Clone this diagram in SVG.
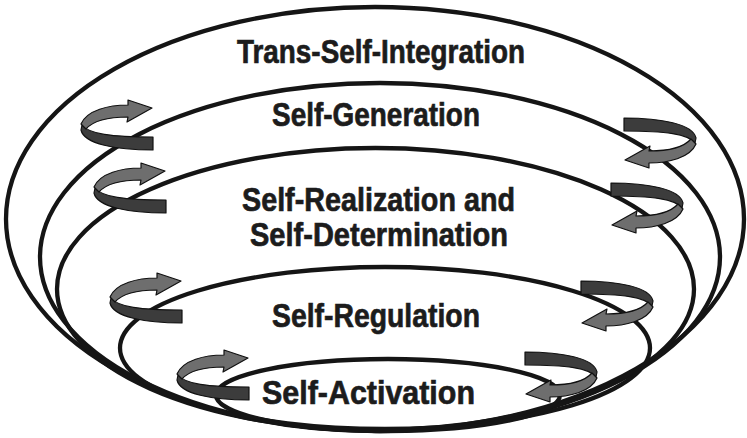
<svg xmlns="http://www.w3.org/2000/svg" width="747" height="438" viewBox="0 0 747 438">
<defs>
<style>
.ring{fill:none;stroke:#151515;stroke-width:4.3}
.lbl{font-family:"Liberation Sans Narrow","Liberation Sans",Arial,sans-serif;font-weight:bold;font-size:34px;fill:#1c1c1c;stroke:#1c1c1c;stroke-width:0.7;text-anchor:middle}
.lt{fill:#6e6e6e;stroke:#111;stroke-width:1.2;stroke-linejoin:round}
.dk{fill:#3c3c3c;stroke:#111;stroke-width:1.2;stroke-linejoin:round}
</style>
<g id="spiral">
<path class="dk" d="M1,25 C8,34 30,37 72,37 L72,50 C35,50 3,44 0,30 Z"/>
<path class="lt" d="M47,5 C28,5 6,10 0,24 L5,29 C12,21 28,17 47,17 L46,22 L71,8 L47,0 Z"/>
</g>
</defs>
<rect width="747" height="438" fill="#ffffff"/>
<g id="trans-self-integration">
<ellipse class="ring" cx="375" cy="219" rx="369" ry="212"/>
<text class="lbl" x="381" y="63" textLength="288" lengthAdjust="spacingAndGlyphs">Trans-Self-Integration</text>
</g>
<g id="self-generation">
<ellipse class="ring" cx="380" cy="257" rx="340" ry="174"/>
<text class="lbl" x="376" y="126" textLength="208" lengthAdjust="spacingAndGlyphs">Self-Generation</text>
</g>
<g id="self-realization">
<ellipse class="ring" cx="375.5" cy="289" rx="318.5" ry="141"/>
<text class="lbl" x="378.5" y="211" textLength="273" lengthAdjust="spacingAndGlyphs">Self-Realization and</text>
<text class="lbl" x="379" y="246" textLength="258" lengthAdjust="spacingAndGlyphs">Self-Determination</text>
</g>
<g id="self-regulation">
<ellipse class="ring" cx="385" cy="348" rx="265" ry="81"/>
<text class="lbl" x="376" y="327" textLength="208" lengthAdjust="spacingAndGlyphs">Self-Regulation</text>
</g>
<g id="self-activation">
<ellipse class="ring" cx="388" cy="395" rx="172" ry="36"/>
<text class="lbl" x="368.5" y="404" textLength="213" lengthAdjust="spacingAndGlyphs">Self-Activation</text>
</g>
<g id="connectors">
<use href="#spiral" transform="translate(81,100)"/>
<use href="#spiral" transform="translate(94,163)"/>
<use href="#spiral" transform="translate(110,273)"/>
<use href="#spiral" transform="translate(177,350)"/>
<use href="#spiral" transform="translate(696,168) rotate(180)"/>
<use href="#spiral" transform="translate(683,233) rotate(180)"/>
<use href="#spiral" transform="translate(653,331) rotate(180)"/>
<use href="#spiral" transform="translate(597,402) rotate(180)"/>
</g>
</svg>
